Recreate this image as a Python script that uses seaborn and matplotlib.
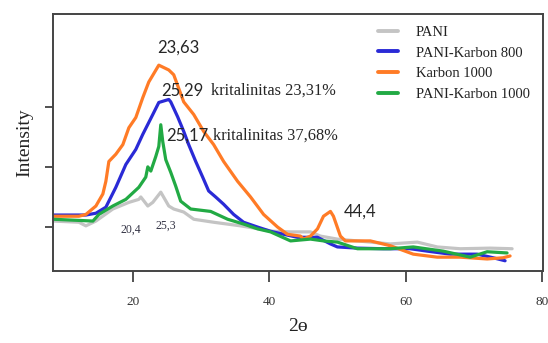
import pandas as pd
import seaborn as sns
import matplotlib.pyplot as plt

# (2-theta in degrees, intensity in arbitrary units)
pani_x = [8.27, 12.07, 13.09, 14.56, 17.04, 19.39, 20.85, 21.14, 22.17, 22.90, 24.07, 25.24,
          25.97, 27.43, 28.90, 31.82, 35.77, 40.60, 43.09, 46.01, 47.48, 49.96, 57.72, 61.67,
          64.59, 67.96, 72.35, 75.57]
pani_y = [0.10, 0.08, 0.02, 0.10, 0.30, 0.41, 0.46, 0.50, 0.35, 0.41, 0.58, 0.35,
          0.30, 0.25, 0.13, 0.08, 0.02, -0.07, -0.08, -0.08, -0.15, -0.20, -0.28, -0.25,
          -0.33, -0.36, -0.35, -0.36]

k800_x = [8.27, 13.09, 14.56, 16.02, 17.48, 18.95, 20.41, 21.43, 22.90, 23.78, 25.24, 25.53,
          26.55, 27.43, 28.16, 29.19, 30.21, 31.09, 32.11, 33.28, 34.75, 36.21, 38.26, 40.16,
          42.06, 44.11, 47.04, 48.94, 49.96, 52.89, 56.69, 60.64, 63.13, 66.50, 70.45, 72.79,
          74.54]
k800_y = [0.20, 0.20, 0.23, 0.33, 0.66, 1.04, 1.29, 1.54, 1.87, 2.07, 2.12, 2.08,
          1.83, 1.59, 1.37, 1.09, 0.83, 0.60, 0.50, 0.38, 0.21, 0.08, 0.00, -0.07,
          -0.12, -0.17, -0.17, -0.28, -0.33, -0.35, -0.36, -0.36, -0.40, -0.45, -0.45, -0.51,
          -0.56]

k1000_x = [8.27, 12.07, 13.09, 14.56, 15.58, 16.02, 16.46, 17.48, 18.51, 19.39, 20.41, 21.43,
           22.31, 23.78, 25.24, 25.97, 27.43, 28.90, 30.35, 31.82, 33.28, 35.33, 37.23, 39.14,
           41.19, 42.65, 44.55, 44.99, 46.01, 47.04, 47.92, 48.94, 49.38, 50.40, 51.13, 54.79,
           57.72, 61.08, 64.59, 67.96, 71.91, 74.25, 75.27]
k1000_y = [0.18, 0.18, 0.21, 0.35, 0.55, 0.76, 1.09, 1.21, 1.37, 1.65, 1.82, 2.15,
           2.41, 2.69, 2.61, 2.53, 2.08, 1.87, 1.59, 1.37, 1.09, 0.76, 0.50, 0.21,
           0.00, -0.12, -0.15, -0.20, -0.15, -0.03, 0.18, 0.26, 0.18, -0.15, -0.23, -0.23,
           -0.31, -0.45, -0.50, -0.50, -0.53, -0.51, -0.48]

pk1000_x = [8.27, 14.12, 15.00, 17.04, 18.95, 20.85, 21.87, 22.17, 22.61, 23.33, 23.78, 24.07,
            24.36, 24.80, 25.53, 26.26, 26.99, 28.46, 31.38, 33.87, 36.21, 38.26, 40.16, 43.09,
            46.01, 47.92, 49.96, 52.89, 57.72, 61.08, 65.47, 69.42, 71.91, 74.83]
pk1000_y = [0.13, 0.10, 0.21, 0.35, 0.46, 0.66, 0.83, 1.00, 0.93, 1.17, 1.34, 1.70,
            1.42, 1.12, 0.91, 0.68, 0.43, 0.30, 0.26, 0.13, 0.05, -0.03, -0.08, -0.23,
            -0.20, -0.23, -0.25, -0.36, -0.36, -0.33, -0.40, -0.50, -0.41, -0.43]

series_names = ['PANI', 'PANI-Karbon 800', 'Karbon 1000', 'PANI-Karbon 1000']
series_colors = ['#c4c4c4', '#2a2ad6', '#ff7b26', '#22aa44']
x_ticks = [20, 40, 60, 80]

frames = []
for name, xs, ys in zip(series_names,
                        [pani_x, k800_x, k1000_x, pk1000_x],
                        [pani_y, k800_y, k1000_y, pk1000_y]):
    frames.append(pd.DataFrame({'2theta': xs, 'Intensity': ys, 'Sampel': name}))
df = pd.concat(frames, ignore_index=True)

sns.set_style("ticks")
serif = ['Liberation Serif', 'DejaVu Serif']
calib = ['Lato', 'DejaVu Sans']
plt.rcParams['font.family'] = serif

fig, ax = plt.subplots(figsize=(5.48, 3.43), dpi=100)
fig.subplots_adjust(left=0.0967, right=0.9909, top=0.9592, bottom=0.2099)

sns.lineplot(data=df, x='2theta', y='Intensity', hue='Sampel', hue_order=series_names,
             palette=dict(zip(series_names, series_colors)), estimator=None, sort=False,
             linewidth=2.3, ax=ax)

ax.set_xlim(8.27, 80.1)
ax.set_ylim(-0.73, 3.54)
ax.set_xticks(x_ticks)
ax.set_yticks([0, 1, 2])
ax.set_yticklabels([])
ax.tick_params(axis='x', length=8, width=1.2, color='#333333', labelsize=9.5,
               labelcolor='#333333', pad=10)
ax.tick_params(axis='y', length=6, width=1.2, color='#333333')
for s in ax.spines.values():
    s.set_linewidth(1.4)
    s.set_color('#444444')

ax.set_xlabel('2ɵ', fontsize=14, labelpad=7, color='#222222')
ax.set_ylabel('Intensity', fontsize=14, labelpad=5, color='#222222')

leg = ax.legend(loc='upper left', bbox_to_anchor=(0.663, 0.955), frameon=False,
                borderpad=0, borderaxespad=0, handlelength=1.4, handletextpad=1.2,
                labelspacing=0.52, prop={'family': serif, 'size': 10.5})
for line in leg.get_lines():
    line.set_linewidth(2.8)
for t in leg.get_texts():
    t.set_color('#222222')

ax.text(26.7, 2.98, '23,63', family=calib, fontsize=12, ha='center', va='center')
ax.text(24.07, 2.26, '25,29', family=calib, fontsize=12, ha='left', va='center')
ax.text(31.38, 2.26, 'kritalinitas 23,31%', family=serif, fontsize=11.8, ha='left', va='center')
ax.text(24.8, 1.52, '25,17', family=calib, fontsize=12, ha='left', va='center')
ax.text(31.67, 1.52, 'kritalinitas 37,68%', family=serif, fontsize=11.8, ha='left', va='center')
ax.text(50.84, 0.25, '44,4', family=calib, fontsize=12, ha='left', va='center')
ax.text(19.68, -0.05, '20,4', family=serif, fontsize=8.5, ha='center', va='center',
        color='#333344')
ax.text(24.8, 0.02, '25,3', family=serif, fontsize=8.5, ha='center', va='center',
        color='#333344')

plt.savefig('out.png', dpi=100)
